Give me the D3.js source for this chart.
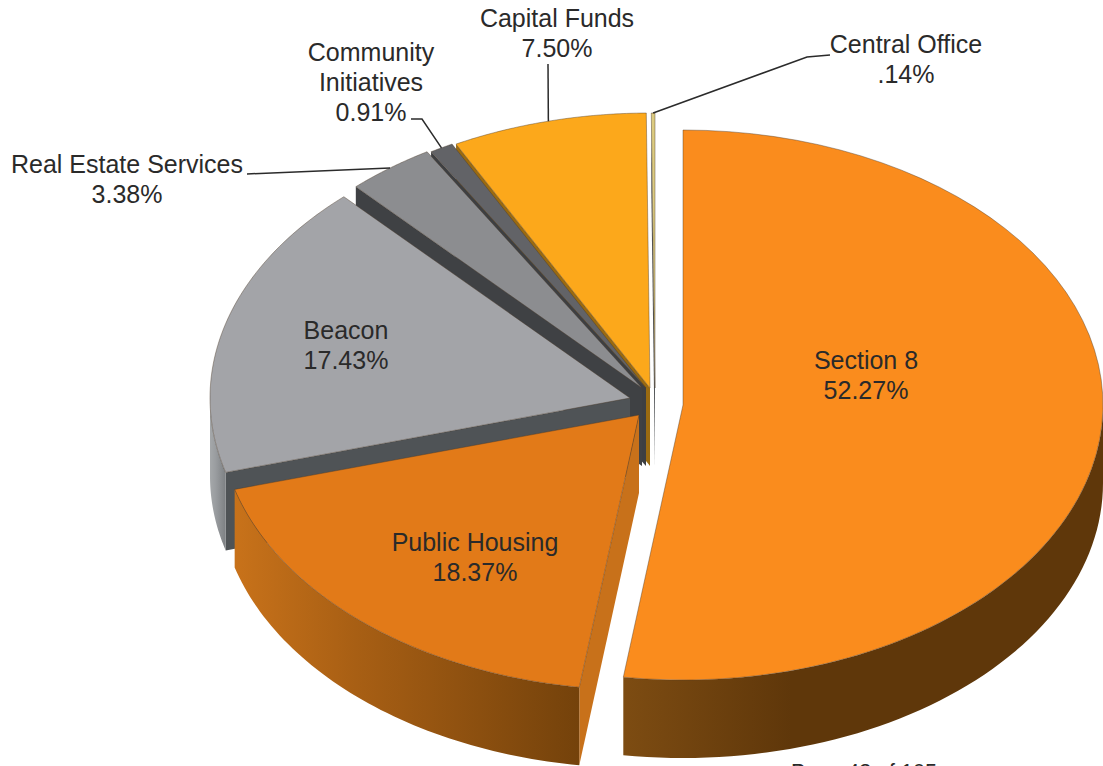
<!DOCTYPE html>
<html>
<head>
<meta charset="utf-8">
<script src="https://cdn.jsdelivr.net/npm/d3@7"></script>
<style>
  html, body { margin: 0; padding: 0; background: #fff; overflow: hidden; }
  svg { display: block; }
  text { font-family: "Liberation Sans", Arial, sans-serif; font-size: 25px; fill: #2a2a2a; text-anchor: middle; }
</style>
</head>
<body>
<script>
// Budget share by program, clockwise from twelve o'clock
const categories = ["Section 8", "Public Housing", "Beacon", "Real Estate Services", "Community Initiatives", "Capital Funds", "Central Office"];
const shares = [52.27, 18.37, 17.43, 3.38, 0.91, 7.50, 0.14];
const shareLabels = ["52.27%", "18.37%", "17.43%", "3.38%", "0.91%", "7.50%", ".14%"];

// Face, wall and cut colours per slice
const topColors = ["#fa8c1d", "#e27a18", "#a3a4a8", "#8c8d90", "#626367", "#fca81b", "#dccb80"];
const cutColors = ["#a8600f", "#c8711a", "#4f5356", "#3f4144", "#3d3f42", "#9a6a10", "#55585a"];
const wallStops = [["#7d4c12", "#5f370a", "#5f370a"], ["#c8721a", "#a85f14", "#74420b"], ["#a5a8aa", "#9a9da0", "#7d8083"],
                   ["#666", "#666", "#666"], ["#444", "#444", "#444"], ["#8a5c10", "#8a5c10", "#8a5c10"], ["#888", "#888", "#888"]];

// Pie projection and the pulled-out centre of each slice
const width = 1103, height = 766;
const rx = 420, ry = 275, depth = 78;
const centers = [[683, 405], [639, 415], [630, 398], [642, 388], [646, 388], [650, 388], [655, 388]];

// Label blocks: lines of text, x centre, first baseline
const labelLines = [
  ["Section 8"], ["Public Housing"], ["Beacon"], ["Real Estate Services"],
  ["Community", "Initiatives"], ["Capital Funds"], ["Central Office"]
];
const labelPos = [[866, 369], [475, 551], [346, 339], [127, 173], [371, 61], [557, 27], [906, 53]];
const lineGap = 30;

// Leader lines run from a fixed elbow to the slice's rim at mid-angle
const leaderElbows = [null, null, null, [[247, 174]], [[411, 119], [422, 119]], [[548, 64]], [[830, 55], [807, 57]]];

const svg = d3.select("body").append("svg").attr("width", width).attr("height", height);
const defs = svg.append("defs");

const arcs = d3.pie().sort(null).value(d => d)(shares);

const rim = (i, a, drop = 0) => [
  centers[i][0] + rx * Math.sin(a),
  centers[i][1] - ry * Math.cos(a) + drop
];
const sampleArc = (i, a0, a1, drop = 0) => d3.range(0, 61).map(k => rim(i, a0 + (a1 - a0) * k / 60, drop));
const path = d3.line();

// Paint back to front: the top-left slices sit behind Beacon, Public Housing and Section 8
const paintOrder = [6, 5, 4, 3, 2, 1, 0];
const pieGroup = svg.append("g");

paintOrder.forEach(i => {
  const d = arcs[i];
  const g = pieGroup.append("g");
  const [cx, cy] = centers[i];

  // Cut face along the leading edge; the trailing edge faces away from the viewer
  const p = rim(i, d.startAngle), q = rim(i, d.startAngle, depth);
  g.append("path")
    .attr("d", path([[cx, cy], p, q, [cx, cy + depth]]) + "Z")
    .attr("fill", cutColors[i]);

  // Outer wall: only the part of the rim on the viewer's side
  const lo = Math.max(d.startAngle, Math.PI / 2), hi = Math.min(d.endAngle, 1.5 * Math.PI);
  if (lo < hi) {
    const pts = sampleArc(i, lo, hi);
    const gradId = "wall" + i;
    const xs = pts.map(p => p[0]);
    const lg = defs.append("linearGradient").attr("id", gradId).attr("gradientUnits", "userSpaceOnUse")
      .attr("x1", d3.min(xs)).attr("x2", d3.max(xs)).attr("y1", 0).attr("y2", 0);
    const stops = wallStops[i];
    [0, 0.35, 1].forEach((o, k) => lg.append("stop").attr("offset", o).attr("stop-color", stops[k]));
    g.append("path")
      .attr("d", path(pts.concat(sampleArc(i, hi, lo, depth))) + "Z")
      .attr("fill", `url(#${gradId})`);
  }

  // Top face
  g.append("path")
    .attr("d", path([[cx, cy]].concat(sampleArc(i, d.startAngle, d.endAngle))) + "Z")
    .attr("fill", topColors[i])
    .attr("stroke", "#4a3a28").attr("stroke-width", 0.6).attr("stroke-opacity", 0.7);
});

// Leader lines
const leaders = svg.append("g").attr("fill", "none").attr("stroke", "#2b2b2b").attr("stroke-width", 1.5);
arcs.forEach((d, i) => {
  if (!leaderElbows[i]) return;
  const mid = (d.startAngle + d.endAngle) / 2;
  leaders.append("path").attr("d", path(leaderElbows[i].concat([rim(i, mid)])));
});

// Labels: name lines followed by the share
const labels = svg.append("g");
categories.forEach((c, i) => {
  const lines = labelLines[i].concat(shareLabels[i]);
  const t = labels.append("text").attr("transform", `translate(${labelPos[i][0]},${labelPos[i][1]})`);
  lines.forEach((s, k) => t.append("tspan").attr("x", 0).attr("y", k * lineGap).text(s));
});

// Page footer, cut off by the bottom edge
svg.append("text").attr("x", 864).attr("y", 779).style("font-size", "21.5px").text("Page 43 of 105");
</script>
</body>
</html>
